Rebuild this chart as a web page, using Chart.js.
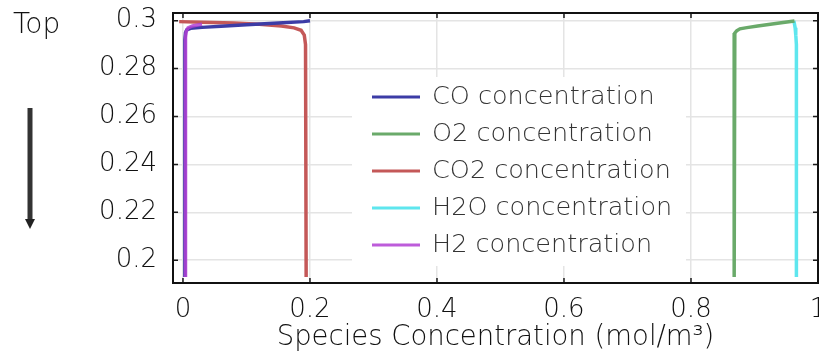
<!DOCTYPE html>
<html>
<head>
<meta charset="utf-8">
<script src="https://cdn.jsdelivr.net/npm/chart.js@4/dist/chart.umd.min.js"></script>
<style>
  html, body { margin: 0; padding: 0; background: #fff; overflow: hidden; }
  canvas { display: block; }
</style>
</head>
<body>
<canvas id="profileChart" width="819" height="354"></canvas>
<script>
// ================================
// DATA  (concentration in mol/m³ vs. height)
// ================================
const X_TICKS = [0, 0.2, 0.4, 0.6, 0.8, 1];
const Y_TICKS = [0.2, 0.22, 0.24, 0.26, 0.28, 0.3];

const SPECIES = ['CO concentration', 'O2 concentration', 'CO2 concentration', 'H2O concentration', 'H2 concentration'];

const CO_HEIGHT  = [0.3, 0.2996, 0.299, 0.2983, 0.2977, 0.2972, 0.2968, 0.2962, 0.295, 0.292, 0.28, 0.193];
const CO_CONC    = [0.2, 0.19, 0.15, 0.10, 0.06, 0.03, 0.012, 0.006, 0.004, 0.003, 0.003, 0.003];

const O2_HEIGHT  = [0.2999, 0.2992, 0.2985, 0.2978, 0.2971, 0.2966, 0.2958, 0.2948, 0.292, 0.193];
const O2_CONC    = [0.963, 0.945, 0.925, 0.905, 0.888, 0.877, 0.872, 0.869, 0.868, 0.868];

const CO2_HEIGHT = [0.2996, 0.2993, 0.299, 0.2985, 0.2978, 0.297, 0.296, 0.294, 0.29, 0.193];
const CO2_CONC   = [-0.006, 0.03, 0.08, 0.12, 0.155, 0.175, 0.186, 0.191, 0.193, 0.194];

const H2O_HEIGHT = [0.2999, 0.2985, 0.297, 0.294, 0.29, 0.28, 0.26, 0.193];
const H2O_CONC   = [0.962, 0.963, 0.964, 0.965, 0.966, 0.966, 0.966, 0.966];

const H2_HEIGHT  = [0.2985, 0.2978, 0.297, 0.2955, 0.293, 0.285, 0.193];
const H2_CONC    = [0.03, 0.015, 0.008, 0.005, 0.004, 0.004, 0.004];

const COLORS = ['#3c3ca6', '#6aaa6a', '#c45858', '#5ee6ee', 'rgba(178,64,212,0.85)'];
const DRAW_ORDER = [1, 3, 2, 4, 0];

// ================================
// UTILS
// ================================
const FONT = 'DejaVu Sans';
const zip = (xs, ys) => xs.map((x, i) => ({ x, y: ys[i] }));
const trimNum = (v) => String(Number(v.toFixed(2)));

const series = [
  zip(CO_CONC, CO_HEIGHT),
  zip(O2_CONC, O2_HEIGHT),
  zip(CO2_CONC, CO2_HEIGHT),
  zip(H2O_CONC, H2O_HEIGHT),
  zip(H2_CONC, H2_HEIGHT)
];

// ================================
// PLUGINS
// ================================
// frame with inward tick marks on all four sides
const framePlugin = {
  id: 'frame',
  afterDatasetsDraw(chart) {
    const { ctx, chartArea: a, scales: { x, y } } = chart;
    ctx.save();
    ctx.strokeStyle = '#1a1a1a';
    ctx.lineWidth = 1.5;
    ctx.beginPath();
    X_TICKS.forEach(v => {
      const px = x.getPixelForValue(v);
      ctx.moveTo(px, a.bottom); ctx.lineTo(px, a.bottom - 5);
      ctx.moveTo(px, a.top); ctx.lineTo(px, a.top + 5);
    });
    Y_TICKS.forEach(v => {
      const py = y.getPixelForValue(v);
      ctx.moveTo(a.left, py); ctx.lineTo(a.left + 5, py);
      ctx.moveTo(a.right, py); ctx.lineTo(a.right - 5, py);
    });
    ctx.stroke();
    ctx.lineWidth = 2;
    ctx.strokeStyle = '#111';
    ctx.strokeRect(a.left, a.top, a.right - a.left, a.bottom - a.top);
    ctx.restore();
  }
};

// boxed legend sitting inside the plot
const insideLegend = {
  id: 'insideLegend',
  afterDatasetsDraw(chart) {
    const { ctx } = chart;
    const left = 352, top = 77, rowH = 37;
    ctx.save();
    ctx.fillStyle = '#fff';
    ctx.fillRect(left, top, 334, rowH * 5 + 4);
    ctx.font = `200 25.5px "${FONT}"`;
    ctx.textBaseline = 'middle';
    chart.data.datasets.forEach((ds, i) => {
      const cy = top + 20 + i * rowH;
      ctx.strokeStyle = ds.borderColor;
      ctx.lineWidth = 3;
      ctx.beginPath();
      ctx.moveTo(left + 20, cy);
      ctx.lineTo(left + 68, cy);
      ctx.stroke();
      ctx.fillStyle = '#333';
      ctx.fillText(ds.label, left + 80, cy);
    });
    ctx.restore();
  }
};

// "Top" caption and the downward arrow left of the axis
const directionMark = {
  id: 'directionMark',
  afterDraw(chart) {
    const { ctx } = chart;
    ctx.save();
    ctx.fillStyle = '#111';
    ctx.font = `200 28px "${FONT}"`;
    ctx.textBaseline = 'alphabetic';
    ctx.fillText('Top', 13, 33);
    ctx.strokeStyle = '#333';
    ctx.lineWidth = 5;
    ctx.beginPath();
    ctx.moveTo(30, 108);
    ctx.lineTo(30, 222);
    ctx.stroke();
    ctx.fillStyle = '#222';
    ctx.beginPath();
    ctx.moveTo(25, 219);
    ctx.lineTo(35, 219);
    ctx.lineTo(30, 229);
    ctx.closePath();
    ctx.fill();
    ctx.restore();
  }
};

// ================================
// CHART
// ================================
document.addEventListener('DOMContentLoaded', renderChart);

function renderChart() {
  const ctx = document.getElementById('profileChart');
  if (typeof Chart === 'undefined') return;

  const tickFont = { family: FONT, size: 26, weight: '200' };

  new Chart(ctx, {
    type: 'line',
    data: {
      datasets: SPECIES.map((label, i) => ({
        label,
        data: series[i],
        borderColor: COLORS[i],
        backgroundColor: COLORS[i],
        borderWidth: 3.5,
        pointRadius: 0,
        tension: 0,
        fill: false,
        order: DRAW_ORDER[i]
      }))
    },
    options: {
      responsive: false,
      devicePixelRatio: 1,
      animation: false,
      layout: { padding: { top: 13, right: 1, left: 0, bottom: 0 } },
      plugins: {
        legend: { display: false },
        tooltip: { enabled: false }
      },
      scales: {
        x: {
          type: 'linear',
          min: -0.0157,
          max: 1.0,
          afterBuildTicks: s => { s.ticks = X_TICKS.map(value => ({ value })); },
          afterFit: s => { s.height = 71; s.paddingLeft = 0; s.paddingRight = 0; },
          grid: { color: '#e4e4e4', lineWidth: 1.5, drawTicks: false },
          border: { display: false },
          ticks: {
            padding: 12,
            color: '#111',
            font: tickFont,
            maxRotation: 0,
            autoSkip: false,
            callback: v => trimNum(v)
          },
          title: {
            display: true,
            text: 'Species Concentration (mol/m³)',
            color: '#111',
            font: { family: FONT, size: 27.5, weight: '200' },
            padding: { top: 0, bottom: 0 }
          }
        },
        y: {
          type: 'linear',
          min: 0.1905,
          max: 0.3032,
          afterBuildTicks: s => { s.ticks = Y_TICKS.map(value => ({ value })); },
          afterFit: s => { s.width = 173; s.paddingTop = 0; s.paddingBottom = 0; },
          grid: { color: '#e4e4e4', lineWidth: 1.5, drawTicks: false },
          border: { display: false },
          ticks: {
            padding: 16,
            color: '#111',
            font: tickFont,
            autoSkip: false,
            callback: v => trimNum(v)
          }
        }
      }
    },
    plugins: [framePlugin, insideLegend, directionMark]
  });
}
</script>
</body>
</html>
